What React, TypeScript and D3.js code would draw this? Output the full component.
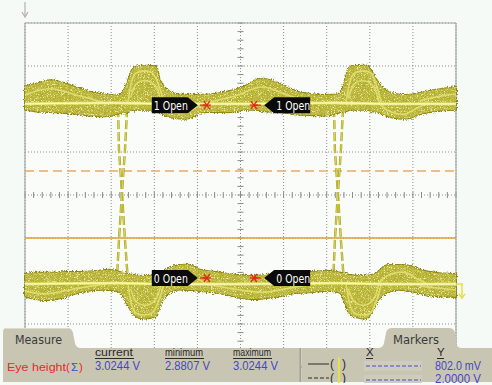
import React from 'react';
import * as d3 from 'd3';

// ---------- data (time in divisions, amplitude in divisions) ----------
const timeDiv = [0, 0.23, 0.58, 0.93, 1.28, 1.62, 1.97, 2.2, 2.39, 2.51, 2.67, 2.9, 3.04, 3.13, 3.25, 3.48, 3.83, 4.06, 4.41, 4.76, 5.1, 5.34, 5.57, 5.92, 6.26, 6.61, 7.08, 7.31, 7.45, 7.54, 7.77, 7.94, 8.05, 8.19, 8.35, 8.58, 8.93, 9.16, 9.51, 10];
const upperTop = [2.53, 2.58, 2.67, 2.6, 2.47, 2.37, 2.33, 2.33, 2.67, 2.95, 3.0, 3.0, 2.98, 2.67, 2.49, 2.35, 2.33, 2.33, 2.35, 2.42, 2.53, 2.67, 2.7, 2.58, 2.42, 2.35, 2.33, 2.37, 2.77, 2.98, 3.0, 3.0, 2.86, 2.63, 2.44, 2.35, 2.33, 2.37, 2.44, 2.51];
const upperBottom = [1.98, 1.95, 1.93, 1.91, 1.88, 1.84, 1.84, 1.91, 1.93, 1.98, 1.98, 1.98, 1.98, 1.93, 1.86, 1.79, 1.79, 1.91, 1.93, 1.93, 1.98, 1.98, 1.95, 1.93, 1.88, 1.86, 1.86, 1.93, 1.95, 1.98, 1.98, 1.98, 1.95, 1.93, 1.86, 1.79, 1.79, 1.88, 1.95, 1.98];
const lowerTop = [-1.84, -1.81, -1.81, -1.79, -1.79, -1.77, -1.74, -1.79, -1.84, -1.86, -1.88, -1.88, -1.88, -1.84, -1.74, -1.65, -1.63, -1.74, -1.79, -1.84, -1.88, -1.88, -1.86, -1.84, -1.81, -1.79, -1.77, -1.81, -1.84, -1.86, -1.88, -1.88, -1.86, -1.79, -1.65, -1.63, -1.65, -1.74, -1.81, -1.84];
const lowerBottom = [-2.35, -2.42, -2.44, -2.37, -2.26, -2.21, -2.21, -2.26, -2.56, -2.77, -2.86, -2.86, -2.81, -2.58, -2.35, -2.21, -2.21, -2.23, -2.26, -2.33, -2.4, -2.42, -2.4, -2.35, -2.28, -2.26, -2.23, -2.28, -2.56, -2.77, -2.86, -2.86, -2.72, -2.44, -2.3, -2.21, -2.23, -2.28, -2.35, -2.37];

type P = [number, number];
const upperLevel: P[] = [[0, 2.12], [2.2, 2.14], [3.2, 2.12], [5.0, 2.12], [7.3, 2.14], [8.3, 2.12], [10, 2.12]];
const lowerLevel: P[] = [[0, -2.07], [2.2, -2.05], [3.2, -2.07], [5.0, -2.07], [7.3, -2.05], [8.3, -2.07], [10, -2.07]];
const upperHumps: P[][] = [
  [[0, 2.33], [0.58, 2.47], [1.28, 2.3], [1.86, 2.14]],
  [[4.18, 2.14], [4.87, 2.3], [5.5, 2.51], [6.15, 2.3], [6.73, 2.14]],
  [[9.16, 2.19], [9.63, 2.3], [10, 2.35]],
];
const lowerHumps: P[][] = [
  [[0, -2.23], [0.46, -2.3], [1.28, -2.16], [1.86, -2.07]],
  [[4.18, -2.07], [5.0, -2.21], [5.57, -2.26], [6.15, -2.16], [6.73, -2.07]],
  [[9.16, -2.12], [10, -2.21]],
];
const upperPulses: P[][] = [
  [[2.39, 2.14], [2.55, 2.81], [2.75, 2.88], [2.95, 2.84], [3.1, 2.56], [3.22, 2.14]],
  [[2.45, 2.26], [2.6, 2.6], [2.85, 2.65], [3.05, 2.5], [3.2, 2.1], [3.4, 1.93], [3.7, 1.9], [4.0, 2.05], [4.2, 2.12]],
  [[7.45, 2.14], [7.62, 2.81], [7.85, 2.88], [8.02, 2.84], [8.15, 2.56], [8.27, 2.14]],
  [[7.5, 2.26], [7.66, 2.6], [7.9, 2.65], [8.1, 2.5], [8.25, 2.1], [8.5, 1.93], [8.8, 1.88], [9.1, 2.02], [9.3, 2.12]],
];
const lowerPulses: P[][] = [
  [[2.39, -2.07], [2.55, -2.72], [2.75, -2.79], [2.95, -2.74], [3.1, -2.47], [3.22, -2.07]],
  [[2.45, -2.18], [2.6, -2.5], [2.85, -2.56], [3.05, -2.4], [3.2, -2.0], [3.4, -1.84], [3.7, -1.8], [4.0, -1.95], [4.2, -2.05]],
  [[7.45, -2.07], [7.62, -2.72], [7.85, -2.79], [8.02, -2.74], [8.15, -2.47], [8.27, -2.07]],
  [[7.5, -2.18], [7.66, -2.5], [7.9, -2.56], [8.1, -2.4], [8.25, -2.0], [8.5, -1.84], [8.8, -1.8], [9.1, -1.95], [9.3, -2.05]],
];
const transitions: P[][] = [
  [[2.16, 2.02], [2.18, 1.05], [2.25, 0.05], [2.32, -1.05], [2.39, -2.02]],
  [[2.37, 2.02], [2.32, 1.05], [2.25, 0.05], [2.18, -1.05], [2.13, -2.02]],
  [[7.17, 2.02], [7.19, 1.05], [7.26, 0.05], [7.33, -1.05], [7.4, -2.02]],
  [[7.38, 2.02], [7.33, 1.05], [7.26, 0.05], [7.19, -1.05], [7.15, -2.02]],
];
const refDashed = 0.56;
const refSolid = -1.0;

const labels = [
  { text: '1 Open', tip: 4.01, level: 2.09, dir: 1, mark: 4.22 },
  { text: '1 Open', tip: 5.55, level: 2.09, dir: -1, mark: 5.31 },
  { text: '0 Open', tip: 4.01, level: -1.93, dir: 1, mark: 4.22 },
  { text: '0 Open', tip: 5.55, level: -1.93, dir: -1, mark: 5.31 },
];

const measureHeaders = ['current', 'minimum', 'maximum'];
const measureValues = ['3.0244 V', '2.8807 V', '3.0244 V'];
const markerY = ['802.0 mV', '2.0000 V'];

// ---------- layout ----------
const W = 492, H = 385;
const x = d3.scaleLinear().domain([0, 10]).range([25, 456]);
const y = d3.scaleLinear().domain([-4, 4]).range([367, 23]);

const NARROW = "'Liberation Sans Narrow','DejaVu Sans Condensed','Liberation Sans',Arial,sans-serif";
const MONO = "'Liberation Sans Narrow','Liberation Sans',sans-serif";

const line = d3.line<P>().x(d => x(d[0])).y(d => y(d[1])).curve(d3.curveCatmullRom.alpha(0.5));
const straight = d3.line<P>().x(d => x(d[0])).y(d => y(d[1]));

function band(top: number[], bot: number[]) {
  const a = d3.area<number>()
    .x((_, i) => x(timeDiv[i]))
    .y0((_, i) => y(bot[i]))
    .y1((_, i) => y(top[i]))
    .curve(d3.curveCatmullRom.alpha(0.5));
  return a(timeDiv) as string;
}

export default function App() {
  const vTicks = d3.range(0, 11);
  const hTicks = d3.range(-4, 5);
  const minor = d3.range(0, 10.01, 0.2);
  const minorY = d3.range(-4, 4.01, 0.2);
  const cx = x(5), cy = y(0);

  return (
    <svg width={W} height={H} style={{ position: 'absolute', left: 0, top: 0, display: 'block' }}>
      <defs>
        <filter id="rough" x="-5%" y="-30%" width="110%" height="160%">
          <feTurbulence type="fractalNoise" baseFrequency="0.9" numOctaves="2" seed="7" result="n" />
          <feDisplacementMap in="SourceGraphic" in2="n" scale="5" xChannelSelector="R" yChannelSelector="G" />
        </filter>
        <filter id="speckle" x="0%" y="0%" width="100%" height="100%">
          <feTurbulence type="fractalNoise" baseFrequency="1.3" numOctaves="1" seed="11" result="n" />
          <feColorMatrix in="n" type="matrix" values="0 0 0 0 0.55  0 0 0 0 0.53  0 0 0 0 0.07  6 0 0 0 -2.6" result="dark" />
          <feComposite in="dark" in2="SourceGraphic" operator="in" result="darkIn" />
          <feColorMatrix in="n" type="matrix" values="0 0 0 0 0.88  0 0 0 0 0.87  0 0 0 0 0.38  0 6 0 0 -3.4" result="light" />
          <feComposite in="light" in2="SourceGraphic" operator="in" result="lightIn" />
          <feMerge>
            <feMergeNode in="SourceGraphic" />
            <feMergeNode in="darkIn" />
            <feMergeNode in="lightIn" />
          </feMerge>
        </filter>
      </defs>
      <rect x={0} y={0} width={W} height={H} fill="#f6faf6" />
      <rect x={x(0)} y={y(4)} width={x(10) - x(0)} height={y(-4) - y(4)} fill="#fafcfa" />

      {/* grid */}
      {vTicks.map(v => (
        <line key={'v' + v} x1={x(v)} x2={x(v)} y1={y(4)} y2={y(-4)} stroke="#8e8e8e" strokeDasharray="1,2" strokeWidth={1} />
      ))}
      {hTicks.map(v => (
        <line key={'h' + v} x1={x(0)} x2={x(10)} y1={y(v)} y2={y(v)} stroke="#8e8e8e" strokeDasharray="1,2" strokeWidth={1} />
      ))}
      {minor.map(v => (
        <line key={'mx' + v} x1={x(v)} x2={x(v)} y1={cy - 3} y2={cy + 3} stroke="#8a8a8a" strokeWidth={1} />
      ))}
      {minorY.map(v => (
        <line key={'my' + v} x1={cx - 3} x2={cx + 3} y1={y(v)} y2={y(v)} stroke="#8a8a8a" strokeWidth={1} />
      ))}
      <line x1={x(0)} x2={x(10)} y1={y(4)} y2={y(4)} stroke="#a4a6a4" strokeWidth={1.2} />
      <line x1={x(0)} x2={x(0)} y1={y(4)} y2={y(-4)} stroke="#a4a6a4" strokeWidth={1.2} />
      <line x1={x(10)} x2={x(10)} y1={y(4)} y2={y(-4)} stroke="#a4a6a4" strokeWidth={1.2} />

      {/* reference lines */}
      <line x1={x(0)} x2={x(10)} y1={y(refDashed)} y2={y(refDashed)} stroke="#eba862" strokeWidth={1.5} strokeDasharray="9,5" />
      <line x1={x(0)} x2={x(10)} y1={y(refSolid)} y2={y(refSolid)} stroke="#d9a23a" strokeWidth={1.5} />

      {/* transitions */}
      {transitions.map((t, i) => (
        <g key={'t' + i}>
          <path d={straight(t) as string} fill="none" stroke="#aca622" strokeWidth={2.4} strokeDasharray="9,3" />
          <path d={straight(t) as string} fill="none" stroke="#e4e07a" strokeWidth={0.8} strokeDasharray="9,3" />
        </g>
      ))}

      {/* bands */}
      {[[upperTop, upperBottom], [lowerTop, lowerBottom]].map(([t, b], i) => (
        <g key={'b' + i}>
          <path d={band(t, b)} fill="#8c8812" stroke="#8c8812" strokeWidth={2} filter="url(#rough)" />
          <path d={band(t, b)} fill="#b3ad2e" stroke="none" filter="url(#speckle)" />
        </g>
      ))}
      {[...upperHumps, ...lowerHumps, ...upperPulses, ...lowerPulses].map((p, i) => (
        <path key={'h' + i} d={line(p) as string} fill="none" stroke="#e2e070" strokeWidth={1.6} opacity={0.9} />
      ))}
      {[upperLevel, lowerLevel].map((p, i) => (
        <g key={'l' + i}>
          <path d={line(p) as string} fill="none" stroke="#eceb7e" strokeWidth={2.8} />
          <path d={line(p) as string} fill="none" stroke="#fafad6" strokeWidth={1} />
        </g>
      ))}

      {/* labels */}
      {labels.map((l, i) => {
        const tx = x(l.tip), ty = y(l.level), d = l.dir;
        const back = tx - d * 10, end = tx - d * 46;
        const path = `M${end},${ty - 8}L${back},${ty - 8}L${tx},${ty}L${back},${ty + 8}L${end},${ty + 8}Z`;
        const textX = d > 0 ? end + 2 : back + 2;
        const mx = x(l.mark);
        return (
          <g key={'lab' + i}>
            <path d={path} fill="#0a0a0a" />
            <text x={textX} y={ty + 5} fill="#ffffff" fontSize={12.5} fontFamily={NARROW} textLength={34} lengthAdjust="spacingAndGlyphs">{l.text}</text>
            <g stroke="#e02818" strokeWidth={1.3}>
              <line x1={mx - d * 7} x2={mx} y1={ty} y2={ty} />
              <line x1={mx - 4} x2={mx + 4} y1={ty} y2={ty} />
              <line x1={mx - 3} x2={mx + 3} y1={ty - 4} y2={ty + 4} />
              <line x1={mx - 3} x2={mx + 3} y1={ty + 4} y2={ty - 4} />
            </g>
          </g>
        );
      })}

      {/* top-left arrow */}
      <g stroke="#b0b2b0" strokeWidth={1.2} fill="none">
        <line x1={x(0)} x2={x(0)} y1={2} y2={17} />
        <path d={`M${x(0) - 3},${12}L${x(0)},${17}L${x(0) + 3},${12}`} />
      </g>
      {/* right ground marker */}
      <g stroke="#e6e040" strokeWidth={1.5} fill="none">
        <path d={`M${x(10)},${y(-2.07)}L${x(10) + 6},${y(-2.07)}L${x(10) + 6},${y(-2.38)}`} />
        <path d={`M${x(10) + 3},${y(-2.3)}L${x(10) + 6},${y(-2.4)}L${x(10) + 9},${y(-2.3)}`} />
      </g>

      {/* bottom panels */}
      <path d="M3,382L3,332Q3,328 7,328L67,328Q72,328 73,333L75,343Q76,348 81,348L300,348L300,382Z" fill="#c8c6b3" />
      <path d="M302,382L302,348L378,348Q383,348 384,343L386,333Q387,328 392,328L449,328Q454,328 455,333L456,343Q457,348 462,348L492,348L492,382Z" fill="#c8c6b3" />
      <line x1={300.5} x2={300.5} y1={348} y2={382} stroke="#a3a18f" strokeWidth={2} />
      <line x1={6} x2={68} y1={328.5} y2={328.5} stroke="#dedccc" strokeWidth={1} />

      <text x={15} y={344} fontSize={13} fill="#3a3a3a" fontFamily={NARROW} textLength={47} lengthAdjust="spacingAndGlyphs">Measure</text>
      <text x={393} y={344} fontSize={13} fill="#3a3a3a" fontFamily={NARROW} textLength={46} lengthAdjust="spacingAndGlyphs">Markers</text>

      <text x={7} y={371} fontSize={11.5} fill="#e8282c" fontFamily={MONO} textLength={59} lengthAdjust="spacingAndGlyphs">Eye height</text>
      <text x={66} y={371} fontSize={11.5} fill="#e8282c" fontFamily={MONO}>(</text>
      <text x={71} y={371} fontSize={11.5} fill="#4848c8" fontFamily={MONO}>Σ</text>
      <text x={79} y={371} fontSize={11.5} fill="#e8282c" fontFamily={MONO}>)</text>

      {measureHeaders.map((h, i) => {
        const hx = [95, 165, 233][i];
        return (
          <g key={'mh' + i}>
            <text x={hx} y={356} fontSize={11.5} fill="#2a2a2a" fontFamily={MONO} textLength={38} lengthAdjust="spacingAndGlyphs">{h}</text>
            <line x1={hx} x2={hx + 39} y1={358.5} y2={358.5} stroke="#2a2a2a" strokeWidth={1} />
            <text x={hx} y={370} fontSize={12} fill="#4646c4" fontFamily={MONO} textLength={45} lengthAdjust="spacingAndGlyphs">{measureValues[i]}</text>
          </g>
        );
      })}

      {/* markers panel */}
      <g stroke="#2a2a2a" strokeWidth={1}>
        <line x1={308} x2={329} y1={364} y2={364} />
        <line x1={308} x2={329} y1={378} y2={378} strokeDasharray="4,2" />
      </g>
      <text x={330} y={368} fontSize={12} fill="#2a2a2a" fontFamily={MONO}>(</text>
      <text x={342} y={368} fontSize={12} fill="#2a2a2a" fontFamily={MONO}>)</text>
      <text x={330} y={382} fontSize={12} fill="#2a2a2a" fontFamily={MONO}>(</text>
      <text x={342} y={382} fontSize={12} fill="#2a2a2a" fontFamily={MONO}>)</text>
      <line x1={339} x2={339} y1={357} y2={385} stroke="#e8e040" strokeWidth={2} />

      <text x={366} y={356} fontSize={11.5} fill="#2a2a2a" fontFamily={MONO}>X</text>
      <line x1={366} x2={373} y1={358.5} y2={358.5} stroke="#2a2a2a" />
      <text x={437} y={356} fontSize={11.5} fill="#2a2a2a" fontFamily={MONO}>Y</text>
      <line x1={437} x2={444} y1={358.5} y2={358.5} stroke="#2a2a2a" />
      <rect x={364} y={361} width={58} height={10} fill="#cecdbd" />
      <rect x={364} y={375} width={58} height={10} fill="#cecdbd" />
      <line x1={366} x2={421} y1={366} y2={366} stroke="#4c4cc8" strokeWidth={1.2} strokeDasharray="4,2" />
      <line x1={366} x2={421} y1={380} y2={380} stroke="#4c4cc8" strokeWidth={1.2} strokeDasharray="4,2" />
      {markerY.map((t, i) => (
        <text key={'my' + i} x={435} y={370 + i * 13} fontSize={12} fill="#4646c4" fontFamily={MONO} textLength={46} lengthAdjust="spacingAndGlyphs">{t}</text>
      ))}
      <rect x={0} y={383} width={W} height={2} fill="#f6faf6" />
    </svg>
  );
}
